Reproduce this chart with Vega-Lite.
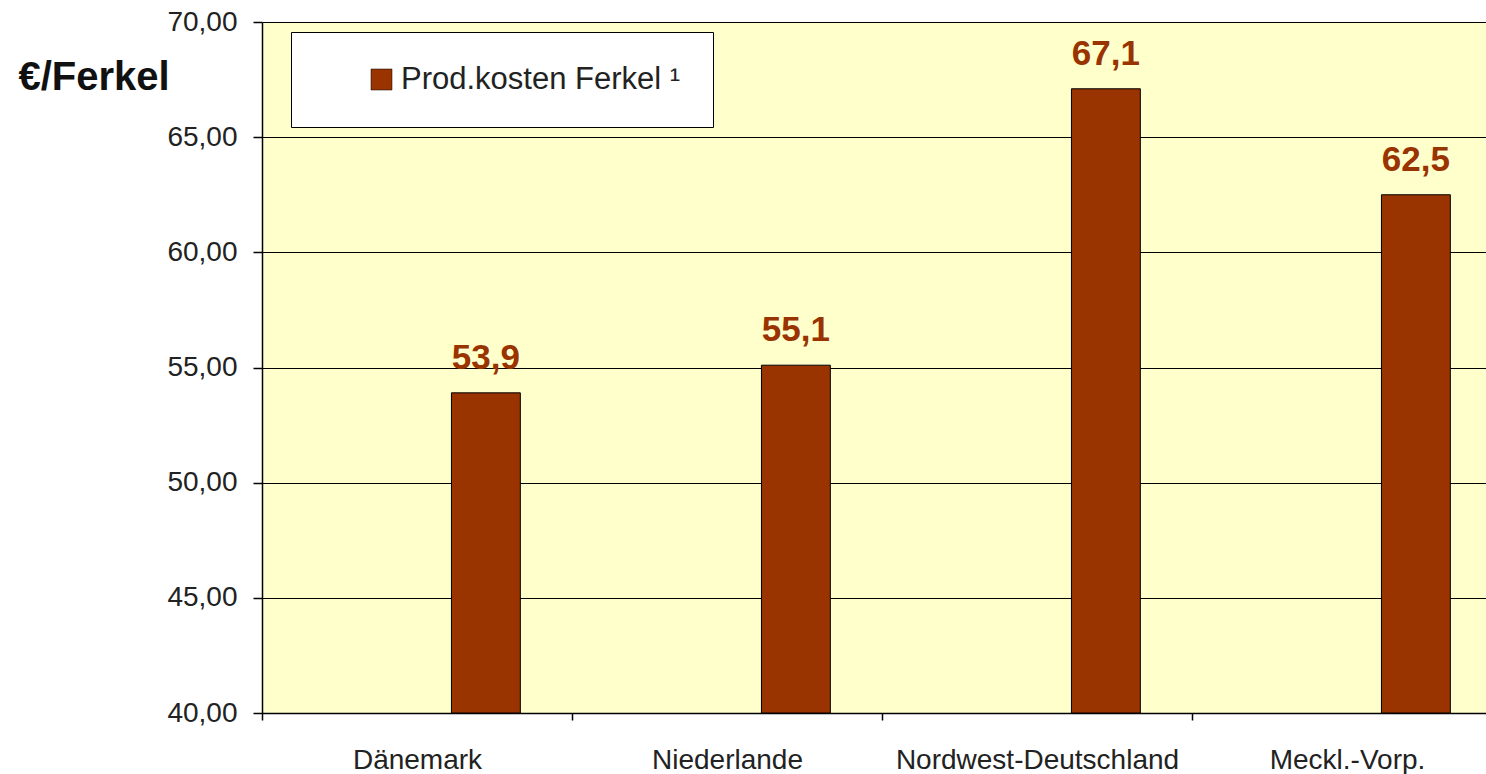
{
  "$schema": "https://vega.github.io/schema/vega-lite/v6.json",
  "autosize": "none",
  "padding": {"left": 262, "top": 22, "right": 0, "bottom": 61},
  "width": 1224,
  "height": 691,
  "background": "white",
  "config": {
    "locale": {"number": {"decimal": ",", "thousands": ".", "grouping": [3], "currency": ["", " €"]}},
    "view": {"fill": "#FFFFCC", "stroke": null},
    "font": "Liberation Sans"
  },
  "data": {
    "values": [
      {"land": "Dänemark", "serie": "Prod.kosten Ferkel ¹", "wert": 53.9},
      {"land": "Niederlande", "serie": "Prod.kosten Ferkel ¹", "wert": 55.1},
      {"land": "Nordwest-Deutschland", "serie": "Prod.kosten Ferkel ¹", "wert": 67.1},
      {"land": "Meckl.-Vorp.", "serie": "Prod.kosten Ferkel ¹", "wert": 62.5}
    ]
  },
  "encoding": {
    "x": {
      "field": "land", "type": "nominal", "sort": null,
      "scale": {"range": [0, 1240], "paddingInner": 0, "paddingOuter": 0},
      "axis": {
        "title": null, "labelAngle": 0, "labelFontSize": 28, "labelColor": "#222222", "labelLimit": 400,
        "tickBand": "extent", "tickSize": 7, "tickColor": "#000000", "tickWidth": 1.5,
        "domainColor": "#000000", "domainWidth": 1.5, "labelPadding": 26, "grid": false
      }
    },
    "xOffset": {
      "field": "serie", "type": "nominal",
      "scale": {"domain": ["s1", "s2", "Prod.kosten Ferkel ¹"], "paddingInner": 0, "paddingOuter": 0.75}
    },
    "y": {
      "field": "wert", "type": "quantitative",
      "scale": {"domain": [40, 70], "zero": false, "nice": false},
      "axis": {
        "values": [40, 45, 50, 55, 60, 65, 70], "format": ".2f",
        "labelFontSize": 28, "labelColor": "#222222", "labelPadding": 16,
        "tickSize": 9, "tickColor": "#000000", "tickWidth": 1.5,
        "domainColor": "#000000", "domainWidth": 1.5,
        "grid": true, "gridColor": "#000000", "gridWidth": 1.2, "gridOpacity": 1,
        "title": "€/Ferkel", "titleAngle": 0, "titleAlign": "left", "titleBaseline": "middle",
        "titleX": -244, "titleY": 55, "titleFontSize": 40, "titleFontWeight": "bold", "titleColor": "#111111"
      }
    }
  },
  "layer": [
    {
      "mark": {"type": "bar", "stroke": "#000000", "strokeWidth": 1},
      "encoding": {
        "y2": {"datum": 40},
        "color": {
          "field": "serie", "type": "nominal",
          "scale": {"domain": ["Prod.kosten Ferkel ¹"], "range": ["#993300"]},
          "legend": {
            "title": null, "orient": "none", "legendX": 29, "legendY": 10,
            "fillColor": "#FFFFFF", "strokeColor": "#000000", "padding": 32,
            "symbolType": "square", "symbolSize": 441, "symbolStrokeColor": "#000000", "symbolStrokeWidth": 0.5,
            "symbolOffset": 43, "labelFontSize": 31, "labelColor": "#222222", "labelOffset": 4, "labelLimit": 500
          }
        }
      }
    },
    {
      "mark": {"type": "text", "dy": -24, "baseline": "alphabetic", "fontSize": 35, "fontWeight": "bold", "color": "#993300"},
      "encoding": {"text": {"field": "wert", "type": "quantitative", "format": ".1f"}}
    }
  ]
}
